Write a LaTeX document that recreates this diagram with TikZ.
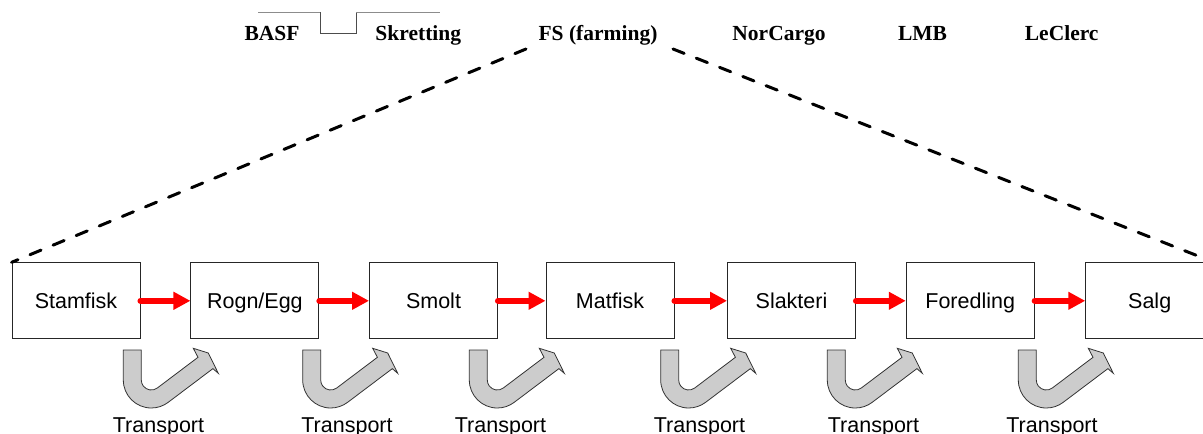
\documentclass[tikz,border=0pt]{standalone}
\usepackage{fontspec}
\setmainfont{Liberation Sans}
\newfontfamily\tnr{Liberation Serif}
\usetikzlibrary{arrows.meta}
\newcommand\uturnarrow[1]{%
  \draw[uturn, shift={(#1,350)}] (0,0) -- (0,30)
    arc[start angle=180, end angle=53, radius=28]
    -- (89.6,18.65) -- (95,23.3) -- (85,3) -- (70,-1.7) -- (74.7,7.3)
    -- (34.02,37.99)
    arc[start angle=53, end angle=180, radius=10]
    -- (18,0) -- cycle;}
\begin{document}
\begin{tikzpicture}[x=1pt,y=-1pt,
  stage/.style={draw=black!85, line width=0.9pt, minimum width=128pt, minimum height=76pt,
    inner sep=0pt, font=\fontsize{21.5}{25}\selectfont, text height=16pt, text depth=1pt},
  flow/.style={draw=red, line width=6pt, line cap=round, -{Triangle[length=17pt,width=17pt]}},
  uturn/.style={draw=black!80, line width=0.8pt, fill=black!20, line join=miter},
  tlabel/.style={anchor=base, inner sep=0pt, font=\fontsize{21.5}{25}\selectfont},
  toplabel/.style={anchor=base, inner sep=0pt, font=\tnr\bfseries\fontsize{21.5}{25}\selectfont},
  dashline/.style={draw=black, line width=3pt, dash pattern=on 12pt off 13pt, line cap=round},
  bracketlight/.style={draw=black!45, line width=1pt},
  bracketdark/.style={draw=black!70, line width=1pt}
]
\useasboundingbox (0,0) rectangle (1203,434);
\clip (0,0) rectangle (1203,434);

% top labels
\node[toplabel] (basf) at (272,40.5) {BASF};
\node[toplabel] (skr) at (418.3,40.5) {Skretting};
\node[toplabel] (fs) at (598,40.5) {FS (farming)};
\node[toplabel] (nor) at (779,40.5) {NorCargo};
\node[toplabel] (lmb) at (922.5,40.5) {LMB};
\node[toplabel] (lec) at (1061.7,40.5) {LeClerc};

% bracket lines
\draw[bracketlight] (258,12.3) -- (320,12.3);
\draw[bracketdark] (320,12.3) -- (320,33) -- (356,33) -- (356,12.3);
\draw[bracketlight] (356,12.3) -- (440,12.3);

% stages
\node[stage] (s1) at (76,300.8) {Stamfisk};
\node[stage] (s2) at (254.9,300.8) {Rogn/Egg};
\node[stage] (s3) at (433.5,300.8) {Smolt};
\node[stage] (s4) at (610,300.8) {Matfisk};
\node[stage] (s5) at (791.5,300.8) {Slakteri};
\node[stage] (s6) at (970.2,300.8) {Foredling};
\node[stage] (s7) at (1149.7,300.8) {Salg};

% dashed zoom lines
\coordinate (fsl) at (526,49);
\coordinate (fsr) at (673,49);
\draw[dashline] (fsl) -- (s1.north west);
\draw[dashline] (fsr) -- (s7.north east);

% flow arrows
\draw[flow] (s1.east) -- (s2.west);
\draw[flow] (s2.east) -- (s3.west);
\draw[flow] (s3.east) -- (s4.west);
\draw[flow] (s4.east) -- (s5.west);
\draw[flow] (s5.east) -- (s6.west);
\draw[flow] (s6.east) -- (s7.west);

% transport U-turn arrows
\uturnarrow{123.3}
\uturnarrow{302.7}
\uturnarrow{469.3}
\uturnarrow{660.7}
\uturnarrow{827.3}
\uturnarrow{1018.3}

% transport labels
\node[tlabel] (t1) at (158.5,432) {Transport};
\node[tlabel] (t2) at (347,432) {Transport};
\node[tlabel] (t3) at (500.5,432) {Transport};
\node[tlabel] (t4) at (699.5,432) {Transport};
\node[tlabel] (t5) at (873.5,432) {Transport};
\node[tlabel] (t6) at (1052,432) {Transport};
\end{tikzpicture}
\end{document}
